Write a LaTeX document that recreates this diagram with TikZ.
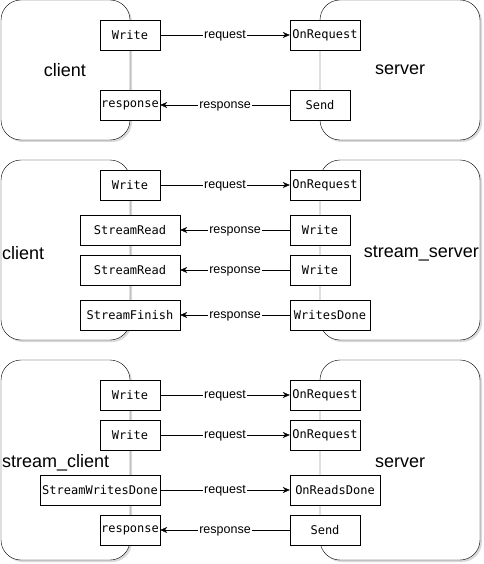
\documentclass[tikz,border=0pt]{standalone}
\usepackage{fontspec}
\setmainfont{Liberation Sans}
\newfontfamily\codefont{DejaVu Sans Mono}
\usetikzlibrary{arrows.meta,shadows}

\begin{document}
\begin{tikzpicture}[
    x=1pt,y=-1pt,
    side/.style={
      draw,rounded corners=20pt,fill=white,
      drop shadow={shadow xshift=2pt,shadow yshift=-2pt,opacity=0.3}
    },
    call/.style={
      draw,fill=white,minimum height=30pt,inner sep=0pt,
      font=\codefont\fontsize{12}{14}\selectfont
    },
    role/.style={
      inner sep=0pt,font=\fontsize{18}{21}\selectfont
    },
    msg/.style={
      -{Stealth[length=7pt,width=6pt]}
    },
    msglabel/.style={
      fill=white,inner sep=1pt,anchor=base,yshift=-3.5pt,
      font=\fontsize{12.5}{14}\selectfont
    }]
      \useasboundingbox (0,0) rectangle (483,564);

      % unary call
      \node[side,minimum width=129pt,minimum height=140pt] (client) at (65.5,70) {};
      \node[side,minimum width=160pt,minimum height=140pt] (server) at (400,70) {};
      \node[role] (clientname) at (65,70) {client};
      \node[role] (servername) at (400,70) {server};

      \node[call,minimum width=60pt] (write) at (130,35) {Write};
      \node[call,minimum width=60pt] (response) at (130,105) {response};
      \node[call,minimum width=70pt] (onrequest) at (325,35) {OnRequest};
      \node[call,minimum width=60pt] (send) at (320,105) {Send};

      \draw[msg] (write) -- node[msglabel]{request} (onrequest);
      \draw[msg] (send) -- node[msglabel]{response} (response);

      % server streaming
      \node[side,minimum width=129pt,minimum height=180pt] (sclient) at (65.5,250) {};
      \node[side,minimum width=160pt,minimum height=180pt] (sserver) at (400,250) {};
      \node[role,anchor=west] (sclientname) at (2,253) {client};
      \node[role,anchor=east] (sservername) at (479,253) {stream\_server};

      \node[call,minimum width=60pt] (swrite) at (130,185) {Write};
      \node[call,minimum width=100pt] (sread1) at (130,230) {StreamRead};
      \node[call,minimum width=100pt] (sread2) at (130,270) {StreamRead};
      \node[call,minimum width=100pt] (sfinish) at (130,315) {StreamFinish};
      \node[call,minimum width=70pt] (sonrequest) at (325,185) {OnRequest};
      \node[call,minimum width=60pt] (swrite1) at (320,230) {Write};
      \node[call,minimum width=60pt] (swrite2) at (320,270) {Write};
      \node[call,minimum width=80pt] (swritesdone) at (330,315) {WritesDone};

      \draw[msg] (swrite) -- node[msglabel]{request} (sonrequest);
      \draw[msg] (swrite1) -- node[msglabel]{response} (sread1);
      \draw[msg] (swrite2) -- node[msglabel]{response} (sread2);
      \draw[msg] (swritesdone) -- node[msglabel]{response} (sfinish);

      % client streaming
      \node[side,minimum width=129pt,minimum height=200pt] (cclient) at (65.5,460) {};
      \node[side,minimum width=160pt,minimum height=200pt] (cserver) at (400,460) {};
      \node[role,anchor=west] (cclientname) at (2,463) {stream\_client};
      \node[role] (cservername) at (400,463) {server};

      \node[call,minimum width=60pt] (cwrite1) at (130,395) {Write};
      \node[call,minimum width=60pt] (cwrite2) at (130,435) {Write};
      \node[call,minimum width=120pt] (cwritesdone) at (100,490) {StreamWritesDone};
      \node[call,minimum width=60pt] (cresponse) at (130,530) {response};
      \node[call,minimum width=70pt] (conrequest1) at (325,395) {OnRequest};
      \node[call,minimum width=70pt] (conrequest2) at (325,435) {OnRequest};
      \node[call,minimum width=90pt] (conreadsdone) at (335,490) {OnReadsDone};
      \node[call,minimum width=70pt] (csend) at (325,530) {Send};

      \draw[msg] (cwrite1) -- node[msglabel]{request} (conrequest1);
      \draw[msg] (cwrite2) -- node[msglabel]{request} (conrequest2);
      \draw[msg] (cwritesdone) -- node[msglabel]{request} (conreadsdone);
      \draw[msg] (csend) -- node[msglabel]{response} (cresponse);
  \end{tikzpicture}
\end{document}
